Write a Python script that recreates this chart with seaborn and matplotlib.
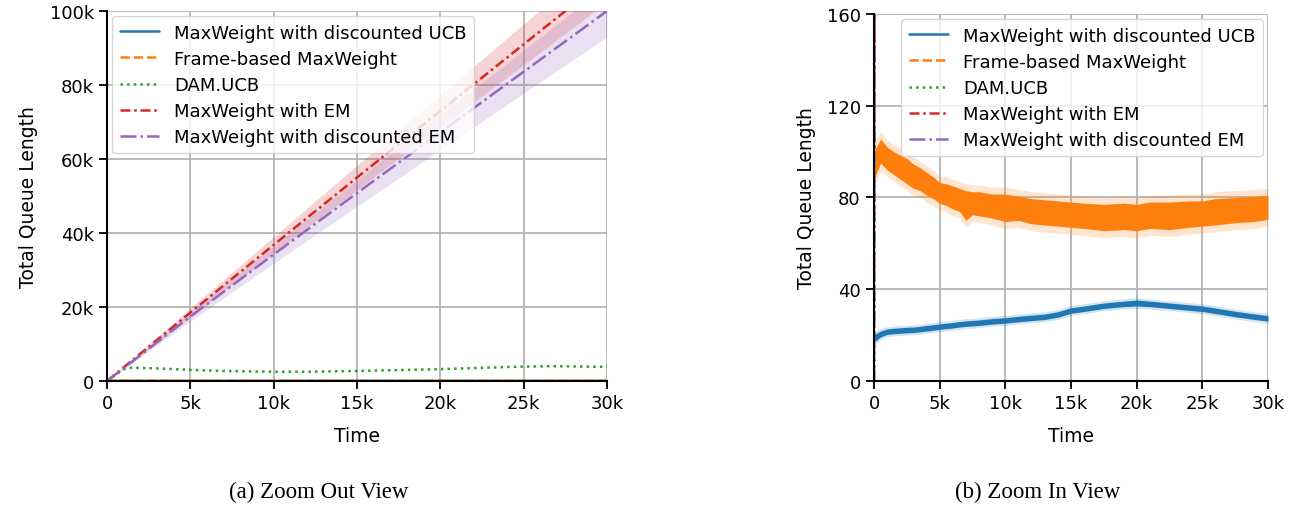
#!/usr/bin/env python3
"""Total queue length over time: zoom out / zoom in views."""

import matplotlib.pyplot as plt
import matplotlib.ticker as mticker
import numpy as np
import seaborn as sns

# ---- zoom out view (left panel) ----
TIME_COARSE = [0, 5000, 10000, 15000, 20000, 25000, 30000]
EM_MEAN = [0, 18500, 36800, 55000, 73000, 91000, 109000]
EM_LO = [0, 17300, 34600, 51700, 68600, 85500, 102400]
EM_HI = [0, 19700, 39000, 58300, 77400, 96500, 115600]
DEM_MEAN = [0, 17400, 34200, 50800, 67200, 83600, 100000]
DEM_LO = [0, 16200, 31800, 47200, 62500, 77800, 93000]
DEM_HI = [0, 18600, 36600, 54400, 71900, 89400, 107000]

TIME_DAM = [0, 1000, 1500, 3000, 5000, 7000, 10000, 12000, 15000, 20000, 25000, 27000, 30000]
DAM_MEAN = [0, 3200, 3600, 3400, 3000, 2700, 2500, 2500, 2700, 3200, 3900, 4000, 3800]

# ---- zoom in view (right panel) ----
TIME_FINE = [0, 500, 1000, 1500, 2000, 2500, 3000, 3500, 4000, 4500, 5000, 5500,
             6000, 6500, 7000, 7500, 8000, 9000, 10000, 11000, 12000, 13000, 14000,
             15000, 16000, 17500, 19000, 20000, 21000, 22500, 24000, 25000, 26000,
             27500, 29000, 30000]
FRAME_LO = [88, 95, 92, 90, 88, 86, 84, 83, 81, 79.5, 77.5, 76.5,
            75, 74, 70, 72.5, 72, 71, 69.5, 70, 68.5, 68, 67.5,
            67, 66.5, 65.5, 66, 65.5, 66.5, 66, 67, 67.5, 68,
            69, 69.5, 70.5]
FRAME_HI = [100, 105.5, 102, 100, 98.5, 97, 94.5, 93, 91, 89, 86.5, 86,
            85, 84, 83, 82.5, 82.5, 81.5, 81.5, 80.5, 79.5, 79, 78.5,
            78, 77.5, 77, 77.5, 77, 78, 78, 78.5, 78.5, 79.5,
            80, 80.5, 81]
FRAME_SPREAD = [3, 3.5, 3, 3, 3, 3, 3, 3, 3, 3, 3, 3,
                3, 3, 3, 3, 3, 3, 3, 3, 3, 3, 3,
                3, 3, 3, 3, 3, 3, 3, 3, 3, 3,
                3, 3, 3]
FRAME_MEAN = [94, 100, 97, 95, 93, 91.5, 89, 88, 86, 84, 82, 81,
              80, 79, 77, 77.5, 77, 76, 75, 75, 74, 73.5, 73,
              72.5, 72, 71, 71.5, 71, 72, 72, 73, 73, 74,
              74.5, 75, 75.7]

UCB_MEAN = [18.5, 20.5, 21.5, 21.8, 22, 22.2, 22.3, 22.6, 23, 23.3, 23.7, 24,
            24.3, 24.7, 25, 25.2, 25.4, 26, 26.4, 27, 27.5, 28, 29,
            30.7, 31.5, 32.8, 33.6, 34, 33.6, 32.8, 32, 31.5, 30.6,
            29.2, 28, 27.3]
UCB_HALF = [1.6, 1.3, 1.2, 1.2, 1.2, 1.2, 1.2, 1.2, 1.2, 1.2, 1.2, 1.2,
            1.2, 1.2, 1.2, 1.2, 1.2, 1.2, 1.2, 1.2, 1.2, 1.2, 1.2,
            1.2, 1.2, 1.2, 1.2, 1.3, 1.2, 1.2, 1.2, 1.2, 1.2,
            1.2, 1.2, 1.2]

LABELS = [
    "MaxWeight with discounted UCB",
    "Frame-based MaxWeight",
    "DAM.UCB",
    "MaxWeight with EM",
    "MaxWeight with discounted EM",
]
COLORS = ["#1f77b4", "#ff7f0e", "#2ca02c", "#d62728", "#9467bd"]
EM_DASH = (0, (4, 1.5, 1, 1.5))
LW = 1.8


def k_fmt(v, _pos):
    return "0" if v == 0 else f"{int(v / 1000)}k"


def style_axes(ax):
    ax.grid(True, color="#b4b4b4", linewidth=1.3)
    ax.set_axisbelow(True)
    for side in ("left", "bottom"):
        ax.spines[side].set_linewidth(1.5)
        ax.spines[side].set_color("black")
    ax.tick_params(direction="out", length=6, width=1.3, labelsize=13, colors="black")
    ax.set_xlim(0, 30000)
    ax.set_xticks(range(0, 30001, 5000))
    ax.xaxis.set_major_formatter(mticker.FuncFormatter(k_fmt))
    ax.set_xlabel("Time", fontsize=13.5, labelpad=10)
    ax.set_ylabel("Total Queue Length", fontsize=13.5, labelpad=8)


def draw_lines(ax):
    sns.lineplot(x=TIME_FINE, y=UCB_MEAN, ax=ax, color=COLORS[0], lw=LW, label=LABELS[0])
    sns.lineplot(x=TIME_FINE, y=FRAME_MEAN, ax=ax, color=COLORS[1], lw=LW,
                 linestyle="--", label=LABELS[1])
    sns.lineplot(x=TIME_DAM, y=DAM_MEAN, ax=ax, color=COLORS[2], lw=LW,
                 linestyle=":", label=LABELS[2])
    sns.lineplot(x=TIME_COARSE, y=EM_MEAN, ax=ax, color=COLORS[3], lw=LW,
                 linestyle=EM_DASH, label=LABELS[3])
    sns.lineplot(x=TIME_COARSE, y=DEM_MEAN, ax=ax, color=COLORS[4], lw=LW,
                 linestyle="-.", label=LABELS[4])
    ax.fill_between(TIME_COARSE, EM_LO, EM_HI, color=COLORS[3], alpha=0.2, lw=0)
    ax.fill_between(TIME_COARSE, DEM_LO, DEM_HI, color=COLORS[4], alpha=0.2, lw=0)


sns.set_style("ticks")
plt.rcParams["font.family"] = ["DejaVu Sans"]
plt.rcParams["text.color"] = "black"
plt.rcParams["axes.labelcolor"] = "black"

fig = plt.figure(figsize=(12.96, 5.06), dpi=100)
ax1 = fig.add_axes([0.0826, 0.2451, 0.3858, 0.7312])
ax2 = fig.add_axes([0.6744, 0.2451, 0.3040, 0.7253])

# left: zoom out
draw_lines(ax1)
style_axes(ax1)
ax1.set_ylim(0, 100000)
ax1.set_yticks(range(0, 100001, 20000))
ax1.yaxis.set_major_formatter(mticker.FuncFormatter(k_fmt))
ax1.legend(loc="upper left", fontsize=13, borderaxespad=0.3, handlelength=2.2,
           labelspacing=0.45, labelcolor="black")

# right: zoom in, with the noisy bands
draw_lines(ax2)
ucb = np.array(UCB_MEAN)
half = np.array(UCB_HALF)
spread = np.array(FRAME_SPREAD)
ax2.fill_between(TIME_FINE, np.array(FRAME_LO) - spread, np.array(FRAME_HI) + spread,
                 color=COLORS[1], alpha=0.2, lw=0)
ax2.fill_between(TIME_FINE, FRAME_LO, FRAME_HI, color=COLORS[1], alpha=1.0, lw=0)
ax2.fill_between(TIME_FINE, ucb - 1.8 * half, ucb + 1.8 * half, color=COLORS[0],
                 alpha=0.2, lw=0)
ax2.fill_between(TIME_FINE, ucb - half, ucb + half, color=COLORS[0], alpha=1.0, lw=0)
style_axes(ax2)
ax2.set_ylim(0, 160)
ax2.set_yticks([0, 40, 80, 120, 160])
ax2.legend(loc="upper right", fontsize=13, borderaxespad=0.3, handlelength=2.2,
           labelspacing=0.45, labelcolor="black")

sns.despine(fig=fig)

fig.text(0.246, 0.015, "(a) Zoom Out View", ha="center", fontsize=16.5,
         family=["Liberation Serif", "DejaVu Serif"])
fig.text(0.801, 0.015, "(b) Zoom In View", ha="center", fontsize=16.5,
         family=["Liberation Serif", "DejaVu Serif"])

fig.savefig("out.png", dpi=100)
